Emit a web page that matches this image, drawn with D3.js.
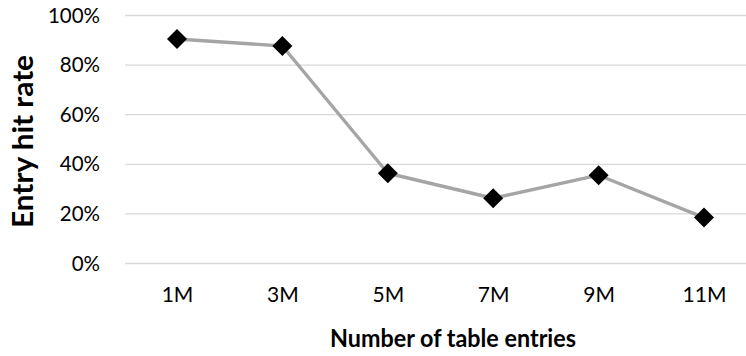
<!DOCTYPE html>
<html>
<head>
<meta charset="utf-8">
<script src="https://cdn.jsdelivr.net/npm/d3@7"></script>
<style>
  html, body { margin: 0; padding: 0; background: #fff; }
  svg { display: block; }
  text { font-family: Lato, "Open Sans", sans-serif; fill: #000; }
</style>
</head>
<body>
<svg id="chart" width="746" height="356"></svg>
<script>
// Entry hit rate by table size
const categories = ["1M", "3M", "5M", "7M", "9M", "11M"];
const hitRate = [0.905, 0.877, 0.364, 0.263, 0.356, 0.185];
const yTicks = [0, 0.2, 0.4, 0.6, 0.8, 1.0];

const svg = d3.select("#chart");

const x = d3.scalePoint()
  .domain(categories)
  .range([177, 704]);

const y = d3.scaleLinear()
  .domain([0, 1])
  .range([263.5, 15.5]);

// horizontal gridlines
svg.append("g")
  .selectAll("line")
  .data(yTicks)
  .join("line")
  .attr("x1", 125)
  .attr("x2", 746)
  .attr("y1", d => y(d))
  .attr("y2", d => y(d))
  .attr("stroke", "#d9d9d9")
  .attr("stroke-width", 1.3);

// y-axis tick labels
const yAxis = d3.axisLeft(y)
  .tickValues(yTicks)
  .tickFormat(d3.format(".0%"))
  .tickSize(0)
  .tickPadding(0);
const gy = svg.append("g")
  .attr("transform", "translate(100,0)")
  .call(yAxis);
gy.select(".domain").remove();
gy.selectAll("text")
  .attr("font-family", "Lato, 'Open Sans', sans-serif")
  .attr("font-size", 20.5)
  .attr("fill", "#000");

// x-axis tick labels
const xAxis = d3.axisBottom(x).tickSize(0).tickPadding(0);
const gx = svg.append("g")
  .attr("transform", "translate(0,287)")
  .call(xAxis);
gx.select(".domain").remove();
gx.selectAll("text")
  .attr("font-family", "Lato, 'Open Sans', sans-serif")
  .attr("font-size", 21)
  .attr("fill", "#000");

// series line
const line = d3.line()
  .x((d, i) => x(categories[i]))
  .y(d => y(d));
svg.append("path")
  .datum(hitRate)
  .attr("d", line)
  .attr("fill", "none")
  .attr("stroke", "#a5a5a5")
  .attr("stroke-width", 3.4)
  .attr("stroke-linejoin", "round");

// diamond markers
const diamond = d3.symbol().type(d3.symbolSquare).size(200);
svg.append("g")
  .selectAll("path")
  .data(hitRate)
  .join("path")
  .attr("d", diamond)
  .attr("transform", (d, i) => `translate(${x(categories[i])},${y(d)}) rotate(45)`)
  .attr("fill", "#000");

// axis titles
svg.append("text")
  .attr("x", 453)
  .attr("y", 347)
  .attr("text-anchor", "middle")
  .attr("font-size", 25.5)
  .attr("font-weight", "bold")
  .attr("textLength", 246)
  .attr("lengthAdjust", "spacingAndGlyphs")
  .text("Number of table entries");

svg.append("text")
  .attr("transform", "translate(33,141.5) rotate(-90)")
  .attr("text-anchor", "middle")
  .attr("font-size", 28)
  .attr("font-weight", "bold")
  .attr("textLength", 173)
  .attr("lengthAdjust", "spacingAndGlyphs")
  .text("Entry hit rate");
</script>
</body>
</html>
